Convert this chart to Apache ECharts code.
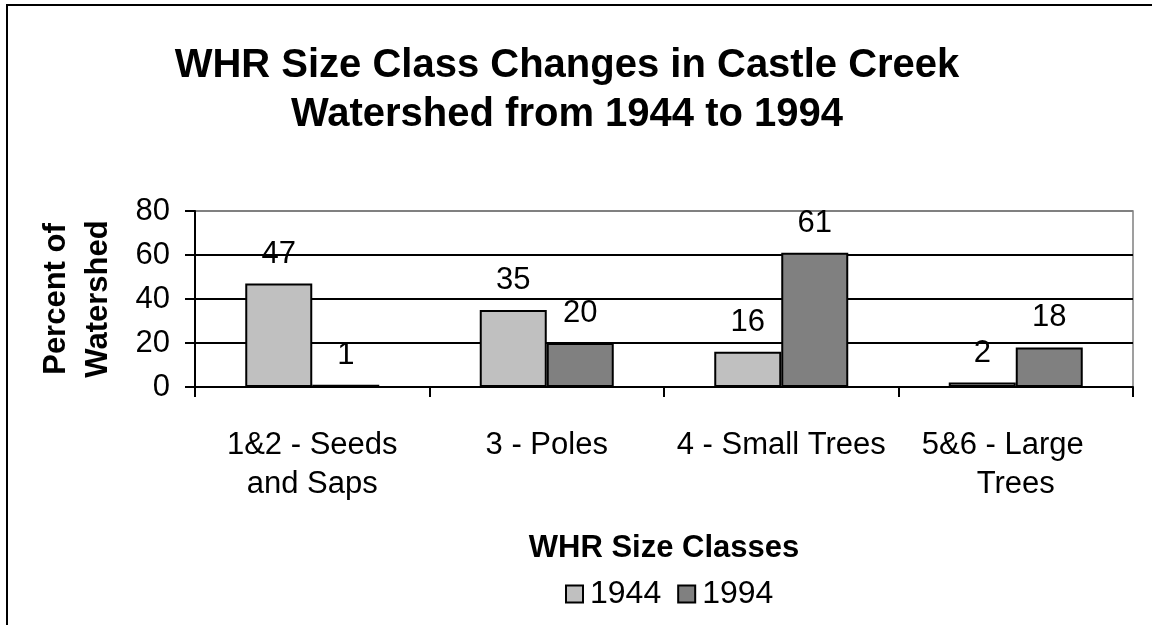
<!DOCTYPE html>
<html>
<head>
<meta charset="utf-8">
<script src="https://cdn.jsdelivr.net/npm/echarts@6/dist/echarts.min.js"></script>
<style>
html,body{margin:0;padding:0;background:#fff;}
#chart{width:1152px;height:625px;}
</style>
</head>
<body>
<div id="chart"></div>
<script>
var categories = ['1&2 - Seeds\nand Saps', '3 - Poles', '4 - Small Trees', '5&6 - Large   \nTrees'];
var values1944 = [47, 35, 16, 2];
var values1994 = [1, 20, 61, 18];
var seriesNames = ['1944', '1994'];
var yTicks = [0, 20, 40, 60, 80];

var FONT = '"Liberation Sans", Arial, sans-serif';
var chart = echarts.init(document.getElementById('chart'), null, {renderer: 'canvas'});

var labelCfg = {
  show: true, position: 'top', distance: 14,
  fontFamily: FONT, fontSize: 31, color: '#000'
};

chart.setOption({
  animation: false,
  backgroundColor: '#fff',
  title: {
    text: 'WHR Size Class Changes in Castle Creek\nWatershed from 1944 to 1994',
    left: 567, top: 41, padding: 0, textAlign: 'center',
    textStyle: {fontFamily: FONT, fontSize: 40, fontWeight: 'bold', color: '#000', lineHeight: 49}
  },
  graphic: [{
    type: 'rect', silent: true, z: 100,
    shape: {x: 7, y: 5, width: 1300, height: 800},
    style: {fill: 'none', stroke: '#000', lineWidth: 2}
  }],
  legend: {
    left: 565, top: 578, padding: 0,
    itemWidth: 17, itemHeight: 17, itemGap: 16,
    icon: 'rect',
    textStyle: {fontFamily: FONT, fontSize: 32, color: '#000', padding: [4, 0, 0, 2]},
    data: seriesNames
  },
  grid: {
    left: 195, right: 19, top: 211, bottom: 238,
    show: true, borderColor: '#808080', borderWidth: 1.5, backgroundColor: 'transparent'
  },
  xAxis: {
    type: 'category', data: categories,
    name: 'WHR Size Classes', nameLocation: 'middle', nameGap: 146,
    nameTextStyle: {fontFamily: FONT, fontSize: 31, fontWeight: 'bold', color: '#000'},
    axisLine: {lineStyle: {color: '#000', width: 2}},
    axisTick: {show: true, alignWithLabel: false, length: 10, lineStyle: {color: '#000', width: 2}},
    axisLabel: {fontFamily: FONT, fontSize: 31, color: '#000', lineHeight: 39, margin: 39, interval: 0}
  },
  yAxis: {
    type: 'value', min: 0, max: 80, interval: 20,
    name: 'Percent of\nWatershed', nameLocation: 'middle', nameGap: 76, nameRotate: 90,
    nameTextStyle: {fontFamily: FONT, fontSize: 31, fontWeight: 'bold', color: '#000', lineHeight: 42},
    axisLine: {show: true, lineStyle: {color: '#000', width: 2}},
    axisTick: {show: true, length: 10, lineStyle: {color: '#000', width: 2}},
    axisLabel: {fontFamily: FONT, fontSize: 31, color: '#000', margin: 25, padding: [9, 0, 0, 0],
      formatter: function (v) { return yTicks.indexOf(v) >= 0 ? String(v) : ''; }},
    splitLine: {show: true, lineStyle: {color: ['#000', '#000', '#000', '#000', '#808080'], width: 2}}
  },
  series: [{
    name: seriesNames[0], type: 'bar', data: values1944,
    barWidth: 67, barGap: '0%',
    itemStyle: {color: '#C0C0C0', borderColor: '#000', borderWidth: 2},
    label: labelCfg
  }, {
    name: seriesNames[1], type: 'bar', data: values1994,
    barWidth: 67, barGap: '0%',
    itemStyle: {color: '#808080', borderColor: '#000', borderWidth: 2},
    label: labelCfg
  }]
});
</script>
</body>
</html>
